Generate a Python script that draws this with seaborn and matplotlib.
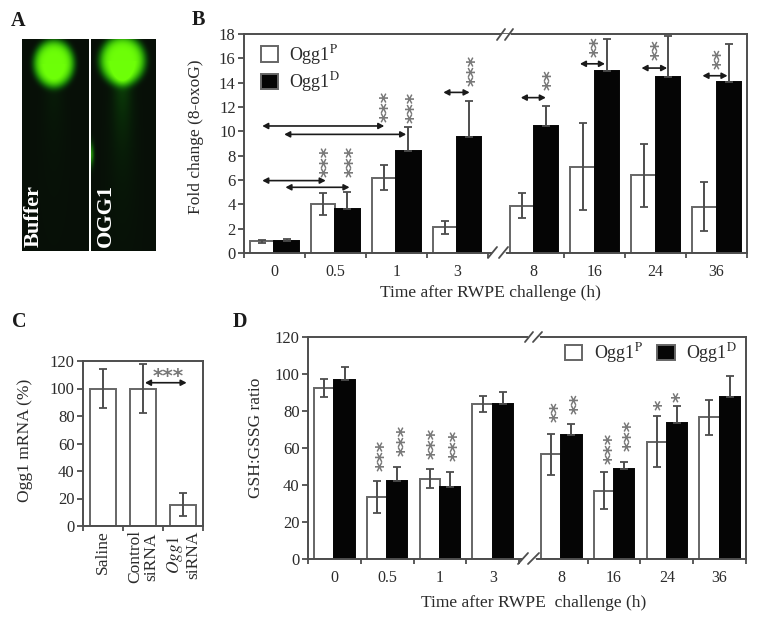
import numpy as np
import pandas as pd
import matplotlib
matplotlib.use("Agg")
import matplotlib.pyplot as plt
from matplotlib.lines import Line2D
import seaborn as sns

W, H = 764, 624
GREY = "#4d4d4d"
EDGE = "#666666"

times = ["0", "0.5", "1", "3", "8", "16", "24", "36"]
series = ["Ogg1$^{\\mathrm{P}}$", "Ogg1$^{\\mathrm{D}}$"]

# panel B
oxo_p = [0.95, 4.0, 6.2, 2.1, 3.9, 7.1, 6.4, 3.8]
oxo_d = [0.95, 3.65, 8.4, 9.5, 10.45, 15.0, 14.5, 14.05]
oxo_p_err = [0.15, 0.9, 1.05, 0.55, 1.0, 3.55, 2.6, 2.0]
oxo_d_err = [0.22, 1.35, 1.95, 3.0, 1.6, 2.55, 3.35, 3.1]
# x, lowest star y, number of stars
oxo_stars = [(0.77, 6.65, 3), (1.18, 6.65, 3), (1.75, 11.2, 3), (2.18, 11.1, 3), (3.18, 14.15, 3),
             (4.43, 13.8, 2), (5.2, 16.55, 2), (6.2, 16.27, 2), (7.21, 15.58, 2)]
# x0, x1, y
oxo_arrows = [(-0.2, 1.8, 10.44), (0.16, 2.16, 9.75), (-0.2, 0.84, 5.95), (0.18, 1.23, 5.4),
              (2.77, 3.2, 13.2), (4.04, 4.45, 12.77), (5.01, 5.42, 15.55), (6.02, 6.44, 15.2),
              (7.02, 7.43, 14.57)]

# panel C
sirna_labels = ["Saline", "Control\nsiRNA", "$\\mathit{Ogg1}$\nsiRNA"]
sirna_vals = [100, 100, 15.5]
sirna_err = [14.5, 17.5, 8.5]

# panel D
gsh_p = [92.5, 33.5, 43.5, 83.7, 56.5, 37, 63.5, 76.5]
gsh_d = [96.6, 42, 39, 83.7, 67, 48.5, 73.4, 87.3]
gsh_p_err = [5, 8.7, 5, 4.5, 11.3, 10, 14, 9.3]
gsh_d_err = [7.2, 7.8, 8, 6.6, 6.2, 4.2, 9.4, 11.5]
gsh_stars = [(0.81, 50.2, 3), (1.21, 58.5, 3), (1.78, 56.8, 3), (2.2, 55.8, 3), (4.12, 77, 2),
             (4.49, 81.4, 2), (5.13, 54.4, 3), (5.49, 61, 3), (6.09, 83.2, 1), (6.43, 87.7, 1)]

sns.set_theme(style="ticks", font="Liberation Serif")
plt.rcParams["mathtext.fontset"] = "stix"
plt.rcParams["font.family"] = ["Liberation Serif", "DejaVu Serif"]
plt.rcParams["text.color"] = "#2b2b2b"
plt.rcParams["axes.labelcolor"] = "#2b2b2b"
plt.rcParams["xtick.labelcolor"] = "#2b2b2b"
plt.rcParams["ytick.labelcolor"] = "#2b2b2b"
plt.rcParams["font.size"] = 11

fig = plt.figure(figsize=(W / 100, H / 100), dpi=100)


def make_axes(l, t, r, b):
    return fig.add_axes([l / W, 1 - b / H, (r - l) / W, (b - t) / H])


def style_axes(ax):
    for s in ax.spines.values():
        s.set_visible(True)
        s.set_color(GREY)
        s.set_linewidth(1.4)
    ax.tick_params(axis="y", which="major", length=4.5, width=1.3, color=GREY, labelsize=12, pad=1.5)
    ax.tick_params(axis="x", which="major", length=0, labelsize=11.5, pad=8)
    ax.tick_params(axis="x", which="minor", length=3.5, width=1.3, color=GREY)


def add_errors(ax, err_p, err_d):
    # white bars get both whiskers, black bars only the upper one
    for cont, err, both in zip(ax.containers, [err_p, err_d], [True, False]):
        xs = [p.get_x() + p.get_width() / 2 for p in cont.patches]
        ys = [p.get_height() for p in cont.patches]
        low = err if both else [0] * len(err)
        ax.errorbar(xs, ys, yerr=[low, err], fmt="none", ecolor=GREY, elinewidth=1.4,
                    capsize=3, capthick=1.3, zorder=5)


def group_chart(ax, vals_p, vals_d, shift, width):
    pos = [i if i < 4 else i + shift for i in range(len(times))]
    df = pd.DataFrame({
        "pos": pos * 2,
        "value": vals_p + vals_d,
        "group": [series[0]] * len(pos) + [series[1]] * len(pos),
    })
    sns.barplot(data=df, x="pos", y="value", hue="group", native_scale=True, palette=["white", "#050505"],
                width=width, gap=0, edgecolor=EDGE, linewidth=1.4, errorbar=None, ax=ax)
    for p in ax.containers[1].patches:
        p.set_edgecolor("#050505")
    ax.set_xticks(pos)
    ax.set_xticklabels(times)
    bounds = [-0.5, 0.5, 1.5, 2.5, 3.5] + [p + 0.5 for p in pos[4:]]
    ax.set_xticks(bounds, minor=True)
    ax.set_xlim(-0.5, pos[-1] + 0.5)


def add_stars(ax, stars, size=14.5):
    # a column of asterisks is one text turned on its side
    for x, y, n in stars:
        ax.annotate("*" * n, (x, y), xytext=(0.6 * size, -0.26 * size), textcoords="offset points",
                    ha="left", va="baseline", rotation=90, rotation_mode="anchor", fontsize=size,
                    fontweight="bold", color="#777777", family="DejaVu Sans", zorder=6)


def add_arrow(ax, x0, x1, y):
    ax.annotate("", xy=(x0, y), xytext=(x1, y),
                arrowprops=dict(arrowstyle="<|-|>,head_width=0.16,head_length=0.3", color="#1a1a1a",
                                lw=1.2, shrinkA=0, shrinkB=0), zorder=6)


def break_mark(x0, x1, x2, x3, y_top, y_bot):
    # white gap on the spine with two slashes either side of it
    ymid = (y_top + y_bot) / 2
    fig.add_artist(Line2D([(x0 + x1) / 2 / W, (x2 + x3) / 2 / W], [1 - ymid / H] * 2, color="white", lw=2.4))
    for a, b in [(x0, x1), (x2, x3)]:
        fig.add_artist(Line2D([a / W, b / W], [1 - y_bot / H, 1 - y_top / H], color=GREY, lw=1.3))


# panel A, micrograph
def comet(nx, ny, cx, cy, rx, ry, tail):
    x, y = np.meshgrid(np.arange(nx), np.arange(ny))
    r = np.sqrt(((x - cx) / rx) ** 2 + ((y - cy) / ry) ** 2)
    head = np.exp(-r ** 6)
    spread = 8 + 0.05 * np.clip(y - cy, 0, None)
    fade = np.exp(-np.clip(y - cy, 0, None) / 55) * (y > cy)
    trail = tail * np.exp(-((x - cx) / spread) ** 2) * fade
    return np.clip(head + trail, 0, 1)


def comet_image(g):
    img = np.zeros(g.shape + (3,))
    img[..., 0] = 0.03 + 0.4 * g ** 2
    img[..., 1] = 0.06 + 0.94 * g
    img[..., 2] = 0.03
    return img


ax_a1 = make_axes(22, 39, 88.5, 251)
g1 = comet(66, 212, 31, 24, 20, 24, 0.08)
ax_a1.imshow(comet_image(g1), aspect="auto")
ax_a2 = make_axes(90.5, 39, 155, 251)
g2 = comet(65, 212, 31, 21, 23, 25, 0.3)
xx, yy = np.meshgrid(np.arange(65), np.arange(212))
g2 = np.clip(g2 + 0.5 * np.exp(-(xx / 2.5) ** 2 - ((yy - 115) / 11) ** 2), 0, 1)
ax_a2.imshow(comet_image(g2), aspect="auto")
for ax, name in [(ax_a1, "Buffer"), (ax_a2, "OGG1")]:
    ax.axis("off")
    ax.text(0.17 if name == "Buffer" else 0.24, 0.02, name, transform=ax.transAxes, rotation=90, color="white",
            fontsize=16, fontweight="bold", ha="center", va="bottom")

# panel B
ax_b = make_axes(244, 34, 747, 253)
group_chart(ax_b, oxo_p, oxo_d, 0.25, 0.79)
style_axes(ax_b)
add_errors(ax_b, oxo_p_err, oxo_d_err)
ax_b.set_ylim(0, 18)
ax_b.set_yticks(range(0, 19, 2))
add_stars(ax_b, oxo_stars)
for x0, x1, y in oxo_arrows:
    add_arrow(ax_b, x0, x1, y)
ax_b.legend(loc="upper left", bbox_to_anchor=(0.033, 0.96), frameon=False, fontsize=13, handlelength=0.95,
            handleheight=0.95, labelspacing=0.2, handletextpad=0.65, borderpad=0, borderaxespad=0)
ax_b.set_xlabel("Time after RWPE challenge (h)", fontsize=12.6)
ax_b.set_ylabel("Fold change (8-oxoG)", fontsize=12.5)
ax_b.xaxis.set_label_coords(0.49, -0.148)
ax_b.yaxis.set_label_coords(-0.08, 0.53)

# panel C
ax_c = make_axes(83, 361, 203, 526)
sns.barplot(x=sirna_labels, y=sirna_vals, color="white", width=0.63, edgecolor=EDGE, linewidth=1.4,
            errorbar=None, ax=ax_c)
style_axes(ax_c)
cont = ax_c.containers[0]
ax_c.errorbar([p.get_x() + p.get_width() / 2 for p in cont.patches], sirna_vals, yerr=sirna_err, fmt="none",
              ecolor=GREY, elinewidth=1.4, capsize=3, capthick=1.3, zorder=5)
ax_c.set_ylim(0, 120)
ax_c.set_xlim(-0.5, 2.5)
ax_c.set_yticks(range(0, 121, 20))
ax_c.set_xticks([-0.5, 0.5, 1.5, 2.5], minor=True)
ax_c.tick_params(axis="x", which="major", labelrotation=90, labelsize=12.5, pad=3)
for lab in ax_c.get_xticklabels():
    lab.set_linespacing(1.0)
add_arrow(ax_c, 1.05, 2.09, 104.2)
ax_c.text(1.62, 102, "***", ha="center", va="bottom", fontsize=14.5, fontweight="bold", color="#777777",
          family="DejaVu Sans")
ax_c.set_ylabel("Ogg1 mRNA (%)", fontsize=12.6)
ax_c.yaxis.set_label_coords(-0.42, 0.52)
ax_c.set_xlabel("")

# panel D
ax_d = make_axes(308, 337, 746, 559)
group_chart(ax_d, gsh_p, gsh_d, 0.3, 0.77)
style_axes(ax_d)
add_errors(ax_d, gsh_p_err, gsh_d_err)
ax_d.set_ylim(0, 120)
ax_d.set_yticks(range(0, 121, 20))
add_stars(ax_d, gsh_stars)
ax_d.legend(loc="upper right", bbox_to_anchor=(0.98, 0.98), frameon=False, fontsize=13, ncol=2,
            handlelength=0.95, handleheight=0.95, columnspacing=0.8, handletextpad=0.65, borderpad=0,
            borderaxespad=0)
ax_d.set_xlabel("Time after RWPE  challenge (h)", fontsize=12.6)
ax_d.set_ylabel("GSH:GSSG ratio", fontsize=12.5)
ax_d.xaxis.set_label_coords(0.515, -0.16)
ax_d.yaxis.set_label_coords(-0.10, 0.545)

break_mark(497, 505, 505, 513, 29, 40)
break_mark(488, 497, 499, 508, 247, 258)
break_mark(525, 533, 533, 542, 332, 342)
break_mark(518, 528, 528, 539, 553, 564)

# panel letters
for letter, x, y in [("A", 11, 26), ("B", 192, 25), ("C", 12, 327), ("D", 233, 327)]:
    fig.text(x / W, 1 - y / H, letter, fontsize=14.5, fontweight="bold", color="#1a1a1a", ha="left", va="baseline")

plt.savefig("out.png", dpi=100)
